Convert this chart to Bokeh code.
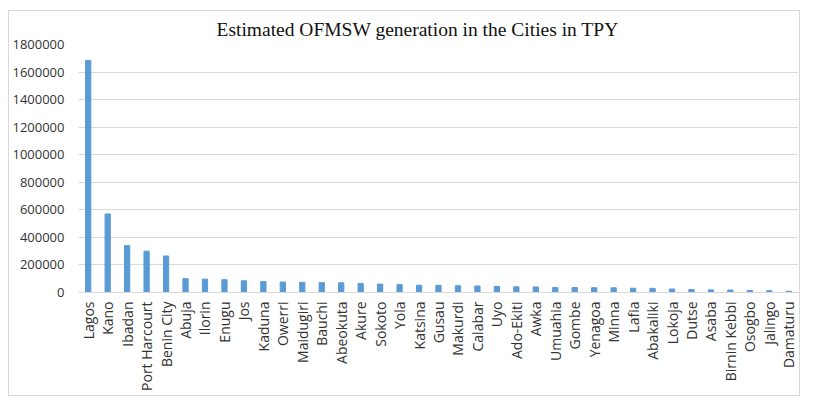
import math
from bokeh.plotting import figure
from bokeh.layouts import column
from bokeh.models import FixedTicker, NumeralTickFormatter, ColumnDataSource
from bokeh.embed import file_html
from bokeh.resources import INLINE

cities = ["Lagos", "Kano", "Ibadan", "Port Harcourt", "Benin City", "Abuja", "Ilorin",
          "Enugu", "Jos", "Kaduna", "Owerri", "Maidugiri", "Bauchi", "Abeokuta", "Akure",
          "Sokoto", "Yola", "Katsina", "Gusau", "Makurdi", "Calabar", "Uyo", "Ado-Ekiti",
          "Awka", "Umuahia", "Gombe", "Yenagoa", "Minna", "Lafia", "Abakaliki", "Lokoja",
          "Dutse", "Asaba", "Birnin Kebbi", "Osogbo", "Jalingo", "Damaturu"]
tpy = [1685000, 570000, 340000, 300000, 265000, 100000, 97000,
       93000, 85000, 80000, 76000, 74000, 71000, 70000, 66000,
       61000, 57000, 53000, 52000, 49000, 47000, 44000, 41000,
       40000, 37000, 36000, 35000, 34000, 31000, 30000, 25000,
       22000, 19000, 18000, 14000, 13000, 9000]
y_ticks = [0, 200000, 400000, 600000, 800000, 1000000, 1200000, 1400000, 1600000, 1800000]

src = ColumnDataSource(dict(city=cities, tpy=tpy))

p = figure(x_range=cities, y_range=(0, 1800000), width=790, height=384,
           output_backend="svg", toolbar_location=None,
           min_border_left=69, min_border_right=1, min_border_top=32, min_border_bottom=103)

p.vbar(x="city", top="tpy", width=0.27, color="#5B9BD5", source=src)

p.title.text = "Estimated OFMSW generation in the Cities in TPY"
p.title.text_font = "Liberation Serif"
p.title.text_font_size = "19.5px"
p.title.text_font_style = "normal"
p.title.text_color = "#111111"
p.title.align = "left"
p.title.offset = 138

p.outline_line_color = None
p.x_range.range_padding = 0
p.xgrid.grid_line_color = None
p.ygrid.grid_line_color = "#d9d9d9"

p.yaxis.ticker = FixedTicker(ticks=y_ticks)
p.yaxis.formatter = NumeralTickFormatter(format="0")
p.yaxis.axis_line_color = None
p.yaxis.major_tick_line_color = None
p.yaxis.minor_tick_line_color = None
p.yaxis.major_tick_out = 0
p.yaxis.minor_tick_out = 0
p.yaxis.major_label_text_font = "Open Sans"
p.yaxis.major_label_text_font_size = "13px"
p.yaxis.major_label_text_color = "#333333"
p.yaxis.major_label_standoff = 14

p.xaxis.axis_line_color = "#d9d9d9"
p.xaxis.major_tick_line_color = None
p.xaxis.minor_tick_line_color = None
p.xaxis.major_tick_out = 0
p.xaxis.minor_tick_out = 0
p.xaxis.major_label_orientation = math.pi / 2
p.xaxis.major_label_text_font = "Open Sans"
p.xaxis.major_label_text_font_size = "14px"
p.xaxis.major_label_text_color = "#333333"
p.xaxis.major_label_standoff = 9

layout = column(p, styles={"border": "1px solid #d9d9d9",
                           "margin-left": "8px", "margin-top": "10px"})

open("out.html", "w").write(file_html(layout, INLINE))
